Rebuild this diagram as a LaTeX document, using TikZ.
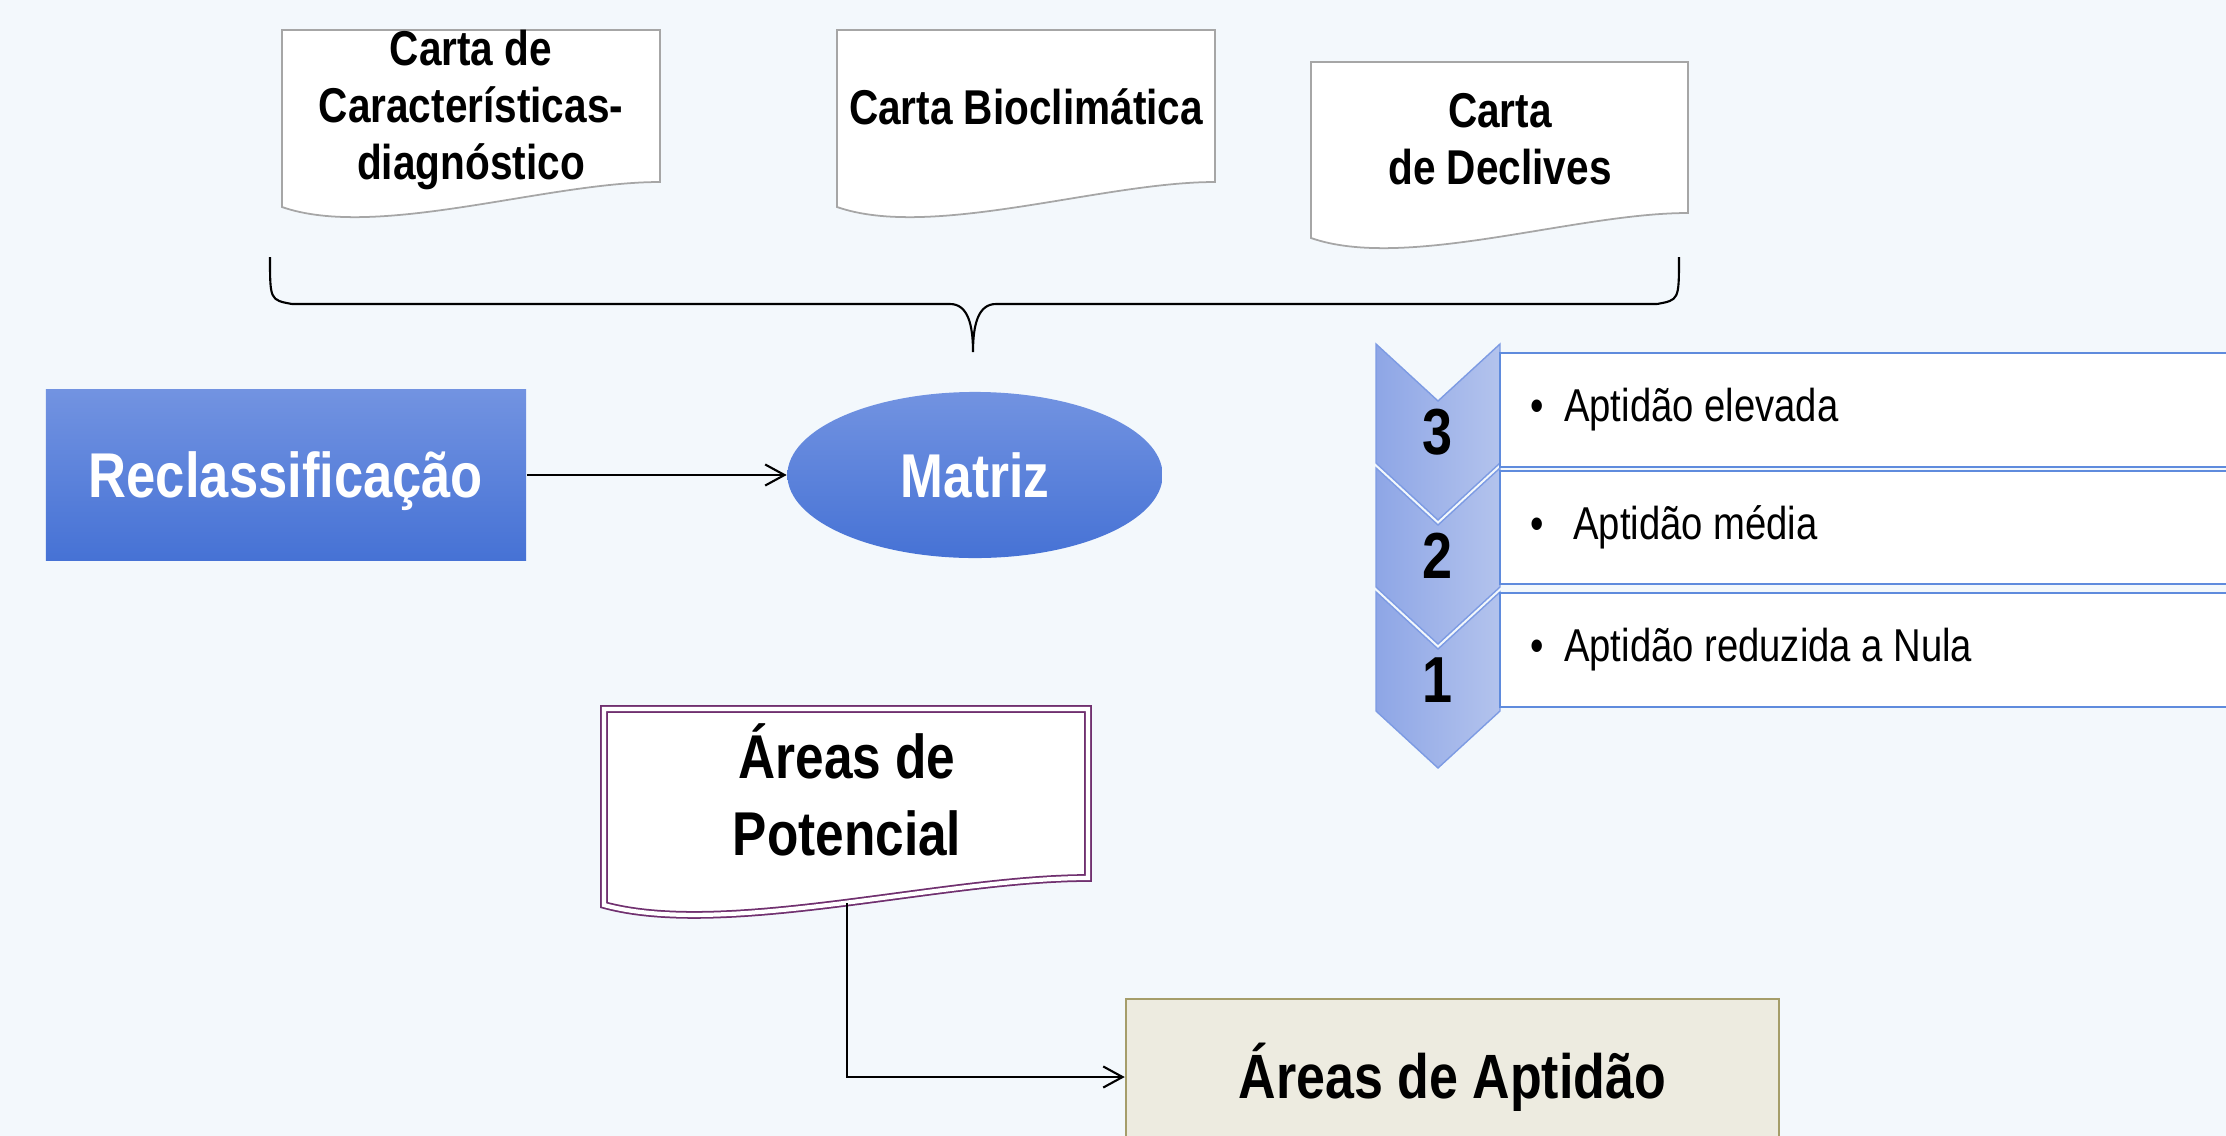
\documentclass[tikz,border=0pt]{standalone}
\usepackage{fontspec}
\setmainfont{Liberation Sans}[FakeStretch=0.83]
\usetikzlibrary{arrows.meta,shapes.geometric,positioning,calc}

\definecolor{fundo}{HTML}{F3F8FC}
\definecolor{docgray}{HTML}{A6A6A6}
\definecolor{azultop}{HTML}{7293E1}
\definecolor{azulbot}{HTML}{4672D5}
\definecolor{chevL}{HTML}{8EA6E6}
\definecolor{chevR}{HTML}{B3C3ED}
\definecolor{chevedge}{HTML}{7D9BE3}
\definecolor{listedge}{HTML}{5F8BDD}
\definecolor{potpurple}{HTML}{70306F}
\definecolor{aptfill}{HTML}{EDEBE0}
\definecolor{aptedge}{HTML}{A59D6A}

% document shape: left, top, right, right bottom, left bottom, style
\newcommand{\carta}[6]{%
  \draw[#6] (#1,#2) -- (#3,#2) -- (#3,#4)
    .. controls ({#3-0.3*(#3-#1)},#4) and ({#1+0.25*(#3-#1)},{#5+33}) .. (#1,#5) -- cycle;}

\begin{document}
\begin{tikzpicture}[x=0.01cm,y=-0.01cm,
  doc/.style={draw=docgray, line width=0.5pt, fill=white},
  potdoc/.style={draw=potpurple, line width=0.5pt, double=white, double distance=1.2pt, fill=white},
  doctxt/.style={font=\bfseries\fontsize{13.9}{16.2}\selectfont, align=center},
  pottxt/.style={font=\bfseries\fontsize{17.6}{21.9}\selectfont, align=center},
  azulbox/.style={rectangle, top color=azultop, bottom color=azulbot, text=white,
    font=\bfseries\fontsize{18}{20}\selectfont, inner sep=0pt, text depth=0pt},
  azulelipse/.style={ellipse, top color=azultop, bottom color=azulbot, text=white,
    font=\bfseries\fontsize{17.6}{20}\selectfont, inner sep=0pt},
  chevron/.style={left color=chevL, right color=chevR, draw=chevedge, line width=0.4pt},
  numtxt/.style={font=\bfseries\fontsize{18.5}{20}\selectfont},
  listtxt/.style={font=\fontsize{13.1}{15}\selectfont, inner sep=0pt},
  aptbox/.style={rectangle, fill=aptfill, draw=aptedge, line width=0.6pt,
    font=\bfseries\fontsize{17.8}{20}\selectfont},
  seta/.style={-{Straight Barb[length=5.5pt, width=6pt]}, line width=0.6pt}]

  % background and fixed size
  \fill[fundo] (0,0) rectangle (2226,1136);
  \useasboundingbox (0,0) rectangle (2226,1136);

  % the three maps
  \carta{282}{30}{660}{182}{207}{doc}
  \carta{837}{30}{1215}{182}{207}{doc}
  \carta{1311}{62}{1688}{213}{238}{doc}
  \node[doctxt] (cartacd) at (471,110) {Carta de\\Características-\\diagnóstico};
  \node[doctxt] (cartabio) at (1026,107) {Carta Bioclimática};
  \node[doctxt] (cartadecl) at (1500,139) {Carta\\de Declives};

  % brace under the maps
  \draw[line width=0.6pt] (270,257) .. controls (270,300) .. (292,304) -- (950,304)
    .. controls (968,304) and (973,325) .. (973,352)
    .. controls (973,325) and (978,304) .. (996,304) -- (1657,304)
    .. controls (1679,300) .. (1679,257);

  % reclassification and matrix
  \node[azulbox, minimum width=4.80cm, minimum height=1.70cm] (reclass) at (286,475) {Reclassificação};
  \node[azulelipse, minimum width=3.75cm, minimum height=1.66cm] (matriz) at (975,475) {Matriz};
  \draw[seta] (reclass) -- (matriz);

  % classes of aptitude
  \foreach \k/\t in {3/344, 2/468, 1/592} {
    \draw[chevron] (1376,\t) -- (1438,{\t+57}) -- (1500,\t) -- (1500,{\t+119})
      -- (1438,{\t+176}) -- (1376,{\t+119}) -- cycle;
    \node[numtxt] (n\k) at (1438,{\t+88}) {\k};
  }
  \foreach \k/\t/\b/\gap/\txt in {3/353/467/5.7pt/{Aptidão elevada},
      2/471/584/8.3pt/{Aptidão média}, 1/593/707/5.7pt/{Aptidão reduzida a Nula}} {
    \fill[white] (1500,\t) rectangle (2226,\b);
    \draw[listedge, line width=0.8pt] (2226,\t) -- (1500,\t) -- (1500,\b) -- (2226,\b);
    \node[listtxt, anchor=west] (item\k) at (1530,{(\t+\b)/2}) {\textbullet\hspace{\gap}\txt};
  }

  % potential areas to aptitude areas
  \carta{604}{709}{1088}{878}{905}{potdoc}
  \node[pottxt] (potencial) at (847,790) {Áreas de\\Potencial};
  \coordinate (potbot) at (847,903);
  \node[aptbox, minimum width=6.53cm, minimum height=1.56cm] (aptidao) at (1452.5,1077) {Áreas de Aptidão};
  \draw[seta] (potbot) |- (aptidao);

\end{tikzpicture}
\end{document}
